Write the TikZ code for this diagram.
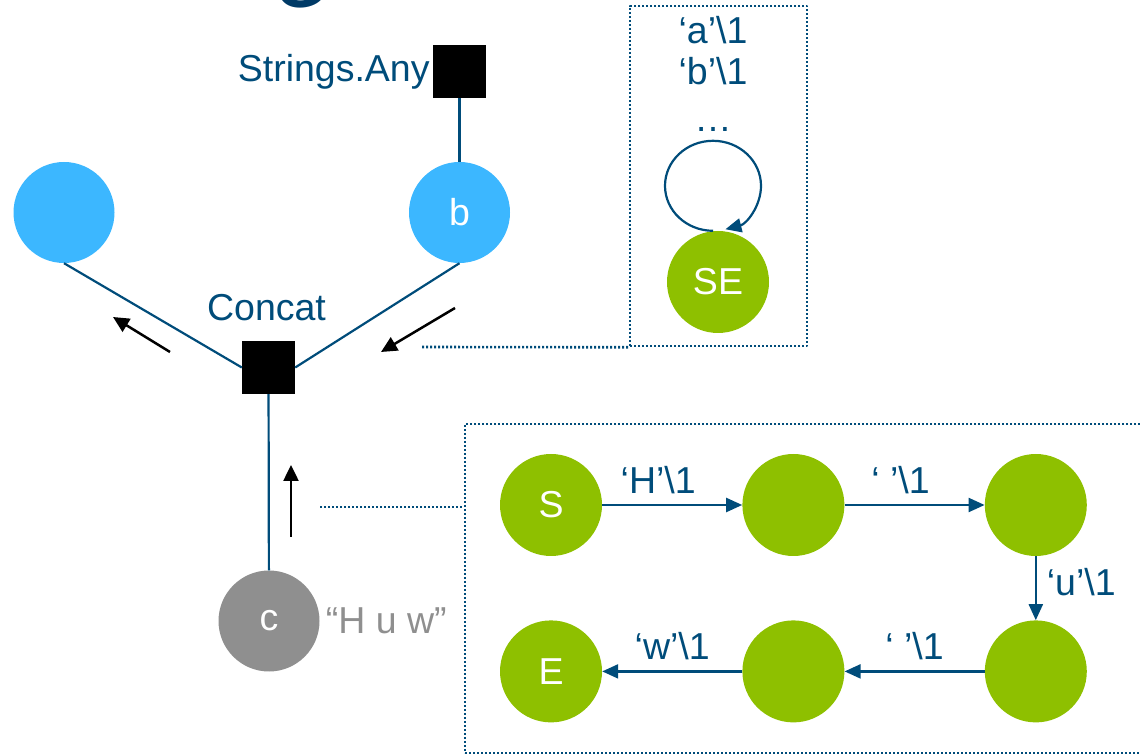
\documentclass[tikz,border=0pt]{standalone}
\usepackage{fontspec}
\setmainfont{Liberation Sans}
\usetikzlibrary{positioning,arrows.meta}
\definecolor{flowblue}{RGB}{0,76,122}
\definecolor{titleblue}{RGB}{0,58,102}
\definecolor{skyblue}{RGB}{60,183,255}
\definecolor{leafgreen}{RGB}{142,192,0}
\definecolor{stonegrey}{RGB}{143,143,143}
\begin{document}
\begin{tikzpicture}[x=1pt, y=1pt, line join=round,
	font=\fontsize{37.5}{45}\selectfont,
	varnode/.style={circle, fill=skyblue, minimum size=101pt, inner sep=0pt, text=white},
	statenode/.style={circle, fill=leafgreen, minimum size=102pt, inner sep=0pt, text=white},
	factor/.style={fill=black, minimum size=53pt, inner sep=0pt},
	wire/.style={draw=flowblue, line width=2.2pt, -{Triangle[length=16pt,width=14pt]}},
	plainwire/.style={draw=flowblue, line width=2.2pt},
	msg/.style={black, line width=2.5pt, -{Triangle[length=16pt,width=15pt]}},
	zoombox/.style={draw=flowblue, line width=2.6pt, dash pattern=on 2.2pt off 1.8pt},
	lbl/.style={text=flowblue, inner sep=0pt},
	elabel/.style={text=flowblue, inner sep=10pt}]
	\useasboundingbox (0,0) rectangle (1140,755);
	% Title (cut off at the top)
	\node[font=\fontsize{64}{70}\selectfont\bfseries, text=titleblue, anchor=base] (title) at (300,747) {G};
	% Factor graph
	\node[factor] (anyf) at (459.5,683.5) {};
	\node[lbl, left=3pt of anyf] (anylbl) {Strings.Any};
	\node[varnode] (bvar) at (459.5,542.5) {b};
	\node[varnode] (lvar) at (64,542.5) {};
	\node[factor] (concat) at (268.5,387.5) {};
	\node[lbl, above=20pt of concat, xshift=-2pt] (concatlbl) {Concat};
	\node[varnode, fill=stonegrey] (cvar) at (269,134) {c};
	\node[lbl, text=stonegrey, right=6pt of cvar] (cval) {“H u w”};
	\draw[plainwire] (anyf) -- (bvar);
	\draw[plainwire] (lvar.south) -- (concat.west);
	\draw[plainwire] (bvar.south) -- (concat.east);
	\draw[plainwire] (concat) -- (cvar);
	% Messages
	\coordinate (m1a) at (170,403); \coordinate (m1b) at (113,438);
	\coordinate (m2a) at (455,447); \coordinate (m2b) at (381,403);
	\coordinate (m3a) at (291,218); \coordinate (m3b) at (291,290);
	\draw[msg] (m1a) -- (m1b);
	\draw[msg] (m2a) -- (m2b);
	\draw[msg] (m3a) -- (m3b);
	% Message from b: automaton with self loop
	\node[zoombox, minimum width=177pt, minimum height=340pt] (topbox) at (718.5,579) {};
	\coordinate (link1) at (422,408);
	\draw[zoombox] (link1) -- (topbox.south west);
	\node[lbl, anchor=base] (sa) at (713,711) {‘a’\textbackslash 1};
	\node[lbl, anchor=base] (sb) at (713,670) {‘b’\textbackslash 1};
	\node[lbl, anchor=base] (sdots) at (713,623) {…};
	\node[statenode] (SE) at (718,473) {SE};
	\draw[wire] ([xshift=-5pt]SE.north) arc[start angle=-90, delta angle=-345, x radius=48, y radius=45];
	% Message from c: automaton for "H u w"
	\node[zoombox, minimum width=685pt, minimum height=329pt] (botbox) at (807.5,166.5) {};
	\coordinate (link2) at (320,248);
	\draw[zoombox] (link2) -- (link2 -| botbox.west);
	\node[statenode] (S) at (551,250) {S};
	\node[statenode, right=140pt of S] (q1) {};
	\node[statenode, right=140pt of q1] (q2) {};
	\node[statenode, below=64pt of q2] (q3) {};
	\node[statenode, left=140pt of q3] (q4) {};
	\node[statenode, left=140pt of q4] (E) {E};
	\draw[wire] (S) -- node[elabel, above, pos=0.4] {‘H’\textbackslash 1} (q1);
	\draw[wire] (q1) -- node[elabel, above, pos=0.4] {‘ ’\textbackslash 1} (q2);
	\draw[wire] (q2) -- node[elabel, right, pos=0.4] {‘u’\textbackslash 1} (q3);
	\draw[wire] (q3) -- node[elabel, above] {‘ ’\textbackslash 1} (q4);
	\draw[wire] (q4) -- node[elabel, above] {‘w’\textbackslash 1} (E);
\end{tikzpicture}
\end{document}
